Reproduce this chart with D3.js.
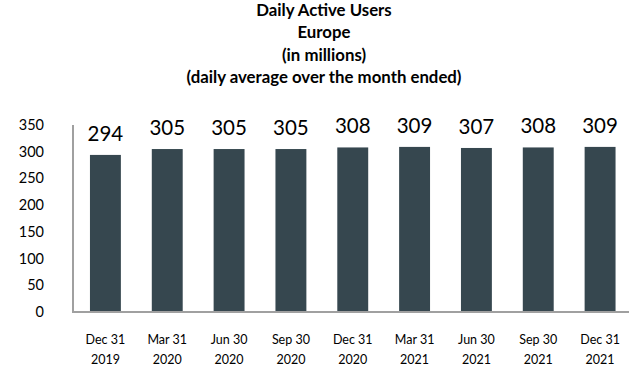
<!DOCTYPE html>
<html><head><meta charset="utf-8">
<script src="https://cdn.jsdelivr.net/npm/d3@7"></script>
<style>body{margin:0;background:#fff}</style>
</head><body>
<svg id="c" width="634" height="366"></svg>
<script>
const categories = [["Dec 31","2019"],["Mar 31","2020"],["Jun 30","2020"],["Sep 30","2020"],["Dec 31","2020"],["Mar 31","2021"],["Jun 30","2021"],["Sep 30","2021"],["Dec 31","2021"]];
const values = [294,305,305,305,308,309,307,308,309];
const yTicks = [0,50,100,150,200,250,300,350];
const titleLines = ["Daily Active Users","Europe","(in millions)","(daily average over the month ended)"];

const svg = d3.select("#c");
const font = "Lato, 'Open Sans', sans-serif";
const x = d3.scaleBand().domain(d3.range(values.length)).range([74.5, 631]).paddingInner(0.5).paddingOuter(0.25);
const y = d3.scaleLinear().domain([0,350]).range([312,125]);

svg.append("g").selectAll("text").data(titleLines).join("text")
  .attr("x", 324).attr("y", (d,i)=>16+i*22.3)
  .attr("text-anchor","middle").attr("font-family",font).attr("font-weight","bold")
  .attr("font-size",16.8).attr("fill","#000").text(d=>d);

svg.append("g").selectAll("text").data(yTicks).join("text")
  .attr("x",44).attr("y",d=>y(d)+5).attr("text-anchor","end")
  .attr("font-family",font).attr("font-size",14.5).attr("fill","#000").text(d=>d);

svg.append("g").selectAll("rect").data(values).join("rect")
  .attr("x",(d,i)=>x(i)).attr("width",x.bandwidth())
  .attr("y",d=>y(d)).attr("height",d=>y(0)-y(d)).attr("fill","#36474f");

svg.append("g").selectAll("text").data(values).join("text")
  .attr("x",(d,i)=>x(i)+x.bandwidth()/2).attr("y",d=>y(d)-14)
  .attr("text-anchor","middle").attr("font-family",font).attr("font-size",20.5).attr("fill","#000").text(d=>d);

// axes lines
svg.append("line").attr("x1",73).attr("x2",73).attr("y1",125).attr("y2",313).attr("stroke","#a0a0a0").attr("stroke-width",2);
svg.append("line").attr("x1",72).attr("x2",629).attr("y1",312).attr("y2",312).attr("stroke","#a0a0a0").attr("stroke-width",2);

const xl = svg.append("g").selectAll("text").data(categories).join("text")
  .attr("text-anchor","middle").attr("font-family",font).attr("font-size",12.5).attr("fill","#000");
xl.append("tspan").attr("x",(d,i)=>x(i)+x.bandwidth()/2).attr("y",344).text(d=>d[0]);
xl.append("tspan").attr("x",(d,i)=>x(i)+x.bandwidth()/2).attr("y",364).text(d=>d[1]);
</script>
</body></html>
